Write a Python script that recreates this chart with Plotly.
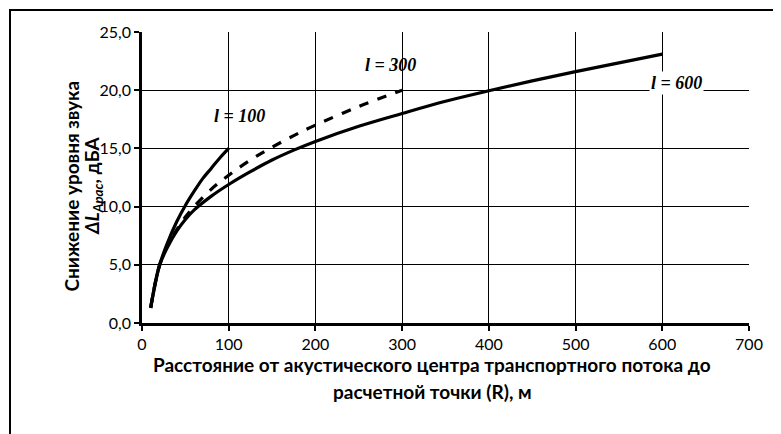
import plotly.graph_objects as go

# Data
r_100 = [10, 20, 30, 40, 50, 60, 70, 80, 90, 100]
v_100 = [1.3, 4.9, 7.0, 8.7, 10.1, 11.3, 12.4, 13.3, 14.2, 15.0]

r_300 = [10, 20, 30, 40, 50, 60, 80, 100, 125, 150, 175, 200, 250, 300]
v_300 = [1.3, 4.9, 6.7, 8.0, 9.1, 10.0, 11.5, 12.7, 14.0, 15.1, 16.1, 17.0, 18.6, 20.0]

r_600 = [10, 20, 30, 40, 50, 60, 80, 100, 125, 150, 175, 200, 250, 300, 350, 400, 450, 500, 550, 600]
v_600 = [1.3, 4.9, 6.6, 7.9, 8.9, 9.7, 10.9, 11.9, 13.0, 14.0, 14.85, 15.6, 16.9, 18.0, 19.05, 19.95, 20.8, 21.6, 22.35, 23.1]

x_ticks = [0, 100, 200, 300, 400, 500, 600, 700]
y_ticks = [0, 5, 10, 15, 20, 25]
y_tick_labels = ["0,0", "5,0", "10,0", "15,0", "20,0", "25,0"]

labels = ["l = 100", "l = 300", "l = 600"]
label_x = [113, 286, 616]
label_y = [17.8, 22.2, 20.6]

# The page body adds an 8px offset; the figure is sized to compensate.
OFF = 8
W, H = 781 - OFF, 434 - OFF
PL, PR, PT, PB = 142, 749, 32, 323  # plot area in window pixels


def px(xw):
    return (xw - PL) / (PR - PL)


def py(yw):
    return (PB - yw) / (PB - PT)


fig = go.Figure()
fig.add_trace(go.Scatter(x=r_100, y=v_100, mode="lines", line=dict(color="black", width=3.2),
                         line_shape="spline", showlegend=False))
fig.add_trace(go.Scatter(x=r_300, y=v_300, mode="lines", line=dict(color="black", width=3.2, dash="dash"),
                         line_shape="spline", showlegend=False))
fig.add_trace(go.Scatter(x=r_600, y=v_600, mode="lines", line=dict(color="black", width=3.2),
                         line_shape="spline", showlegend=False))

for t, x, y in zip(labels, label_x, label_y):
    fig.add_annotation(x=x, y=y, text="<b><i>" + t + "</i></b>", showarrow=False,
                       font=dict(family="Liberation Serif", size=18, color="black"),
                       bgcolor="white" if t == "l = 600" else "rgba(0,0,0,0)")

font = "Lato"
fig.update_layout(
    width=W, height=H,
    margin=dict(l=PL - OFF, r=781 - PR, t=PT - OFF, b=434 - PB),
    paper_bgcolor="white", plot_bgcolor="white",
    font=dict(family=font, color="black", size=16),
    xaxis=dict(range=[0, 700], tickvals=x_ticks, showgrid=True, gridcolor="black", gridwidth=1,
               showline=True, linecolor="black", linewidth=2.5, ticks="outside", ticklen=5,
               tickcolor="black", tickwidth=2, zeroline=False,
               tickfont=dict(family=font, size=16)),
    yaxis=dict(range=[0, 25], tickvals=y_ticks, ticktext=y_tick_labels, showgrid=True,
               gridcolor="black", gridwidth=1, showline=True, linecolor="black", linewidth=2.5,
               ticks="outside", ticklen=5, tickcolor="black", tickwidth=2, zeroline=False,
               tickfont=dict(family=font, size=16)),
)

# axis titles as annotations
fig.add_annotation(xref="paper", yref="paper", x=px(432), y=py(378),
                   text="<b>Расстояние от акустического центра транспортного потока до</b>",
                   showarrow=False, font=dict(family=font, size=19))
fig.add_annotation(xref="paper", yref="paper", x=px(432), y=py(405),
                   text="<b>расчетной точки (R), м</b>",
                   showarrow=False, font=dict(family=font, size=19))
fig.add_annotation(xref="paper", yref="paper", x=px(57), y=py(186), textangle=-90,
                   text="<b>Снижение уровня звука</b>",
                   showarrow=False, font=dict(family=font, size=19))
fig.add_annotation(xref="paper", yref="paper", x=px(78), y=py(186), textangle=-90,
                   text="<b><i>ΔL<sub>Apac</sub></i>, дБА</b>",
                   showarrow=False, font=dict(family=font, size=19))

# outer frame
fig.add_shape(type="rect", xref="paper", yref="paper",
              x0=px(10), x1=px(820), y0=py(470), y1=py(10),
              line=dict(color="black", width=2), layer="below")

fig.write_html("out.html")
